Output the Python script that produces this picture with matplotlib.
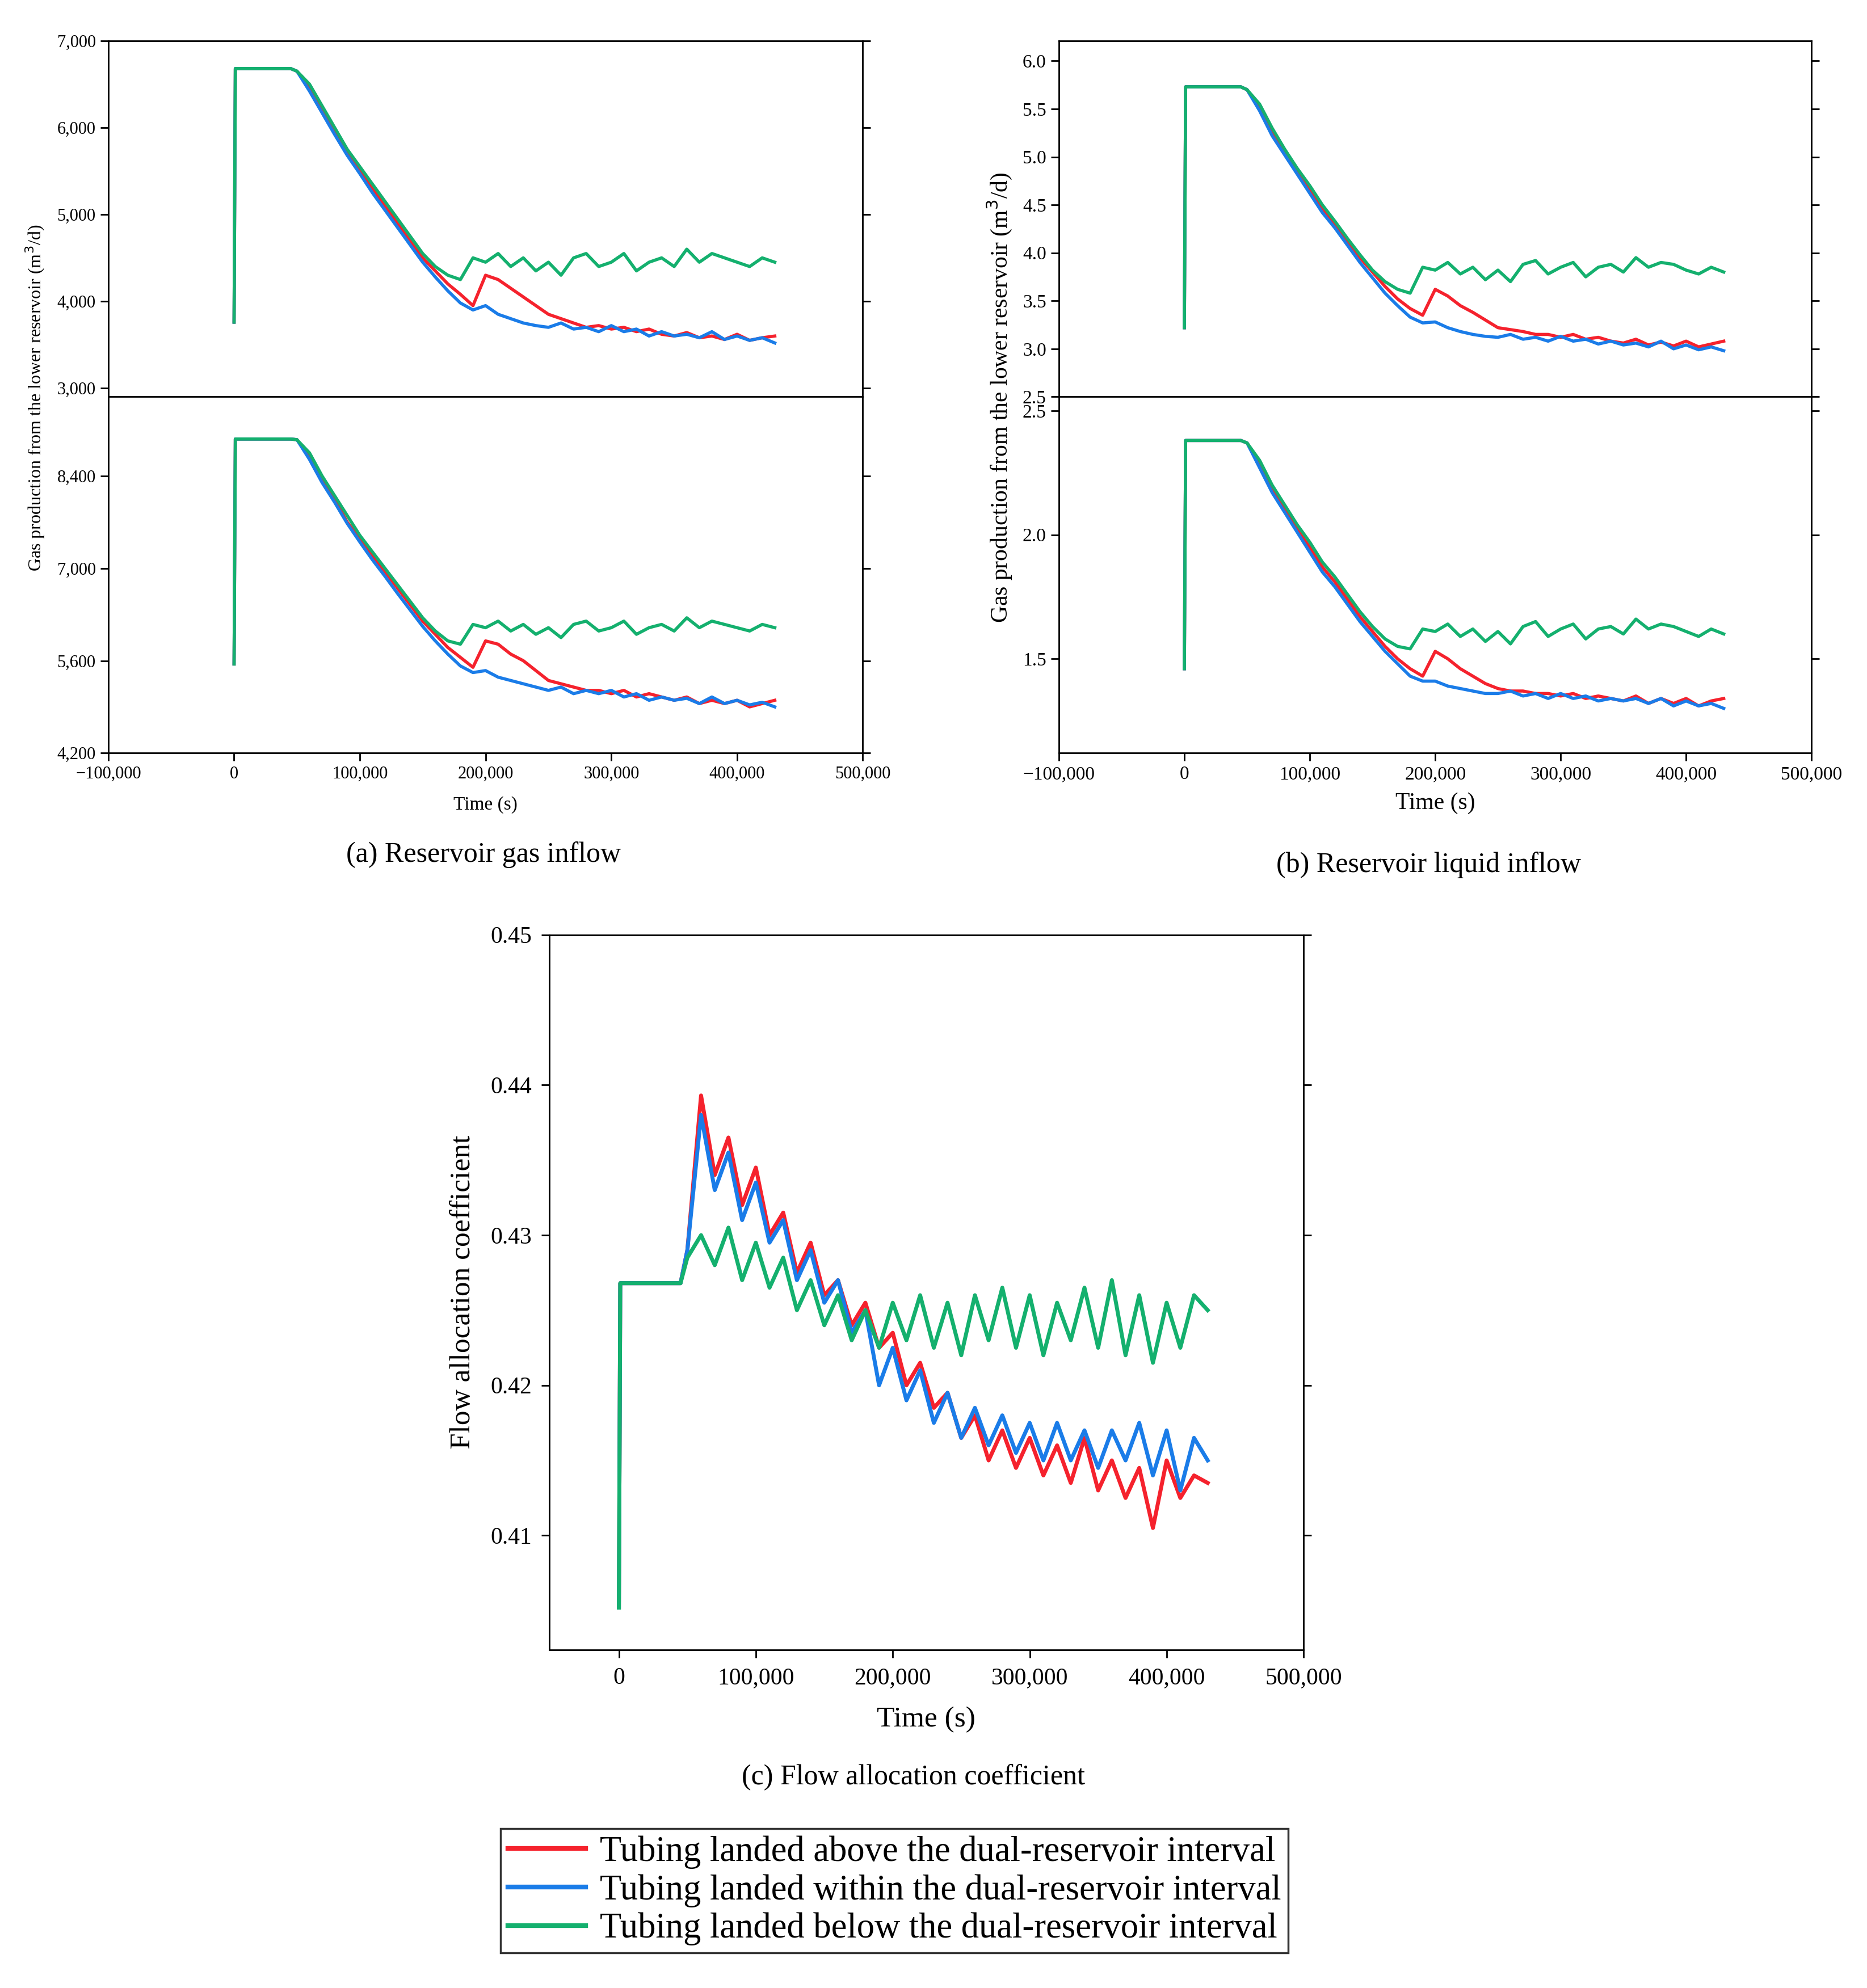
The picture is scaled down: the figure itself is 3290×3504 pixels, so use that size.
import numpy as np
import matplotlib
matplotlib.use("Agg")
import matplotlib.pyplot as plt
from matplotlib.ticker import FuncFormatter

plt.rcParams["font.family"] = "Liberation Serif"

# ---- data ----
t_start = [0, 1000, 45000]          # start times (s)
t0, dt = 50000, 10000               # sampled times after plateau

a_top_start = [3760, 6680, 6680]
a_top_red = [6650,6450,6200,5950,5700,5500,5300,5100,4900,4700,4500,4350,4200,4080,3950,4300,4250,4150,4050,3950,3850,3800,3750,3700,3720,3680,3700,3650,3680,3620,3600,3640,3580,3600,3560,3620,3550,3580,3600]
a_top_blue = [6650,6420,6170,5920,5680,5470,5250,5050,4850,4650,4450,4280,4120,3980,3900,3950,3850,3800,3750,3720,3700,3750,3680,3700,3650,3720,3650,3680,3600,3650,3600,3620,3580,3650,3560,3600,3550,3580,3520]
a_top_green = [6650,6500,6250,6000,5750,5550,5350,5150,4950,4750,4550,4400,4300,4250,4500,4450,4550,4400,4500,4350,4450,4300,4500,4550,4400,4450,4550,4350,4450,4500,4400,4600,4450,4550,4500,4450,4400,4500,4450]

a_bot_start = [5550, 8960, 8960]
a_bot_red = [8950,8700,8350,8050,7700,7450,7200,6950,6700,6450,6200,6000,5800,5650,5500,5900,5850,5700,5600,5450,5300,5250,5200,5150,5150,5100,5150,5050,5100,5050,5000,5050,4950,5000,4950,5000,4900,4950,5000]
a_bot_blue = [8950,8650,8300,8000,7680,7400,7130,6880,6620,6370,6120,5900,5700,5520,5420,5450,5350,5300,5250,5200,5150,5200,5100,5150,5100,5150,5050,5100,5000,5050,5000,5030,4950,5050,4950,5000,4930,4970,4900]
a_bot_green = [8950,8750,8400,8100,7800,7500,7250,7000,6750,6500,6250,6050,5900,5850,6150,6100,6200,6050,6150,6000,6100,5950,6150,6200,6050,6100,6200,6000,6100,6150,6050,6250,6100,6200,6150,6100,6050,6150,6100]

b_top_start = [3.22, 5.73, 5.73]
b_top_red = [5.70,5.50,5.25,5.05,4.85,4.65,4.45,4.30,4.12,3.95,3.80,3.65,3.52,3.42,3.35,3.62,3.55,3.45,3.38,3.30,3.22,3.20,3.18,3.15,3.15,3.12,3.15,3.10,3.12,3.08,3.06,3.10,3.04,3.07,3.03,3.08,3.02,3.05,3.08]
b_top_blue = [5.70,5.48,5.22,5.02,4.82,4.62,4.42,4.26,4.08,3.90,3.74,3.58,3.45,3.33,3.27,3.28,3.22,3.18,3.15,3.13,3.12,3.15,3.10,3.12,3.08,3.13,3.08,3.10,3.05,3.08,3.04,3.06,3.02,3.08,3.00,3.04,2.99,3.02,2.98]
b_top_green = [5.70,5.55,5.30,5.08,4.88,4.70,4.50,4.33,4.15,3.98,3.82,3.70,3.62,3.58,3.85,3.82,3.90,3.78,3.85,3.72,3.82,3.70,3.88,3.92,3.78,3.85,3.90,3.75,3.85,3.88,3.80,3.95,3.85,3.90,3.88,3.82,3.78,3.85,3.80]

b_bot_start = [1.46, 2.38, 2.38]
b_bot_red = [2.37,2.28,2.18,2.10,2.02,1.95,1.87,1.81,1.74,1.67,1.61,1.55,1.50,1.46,1.43,1.53,1.50,1.46,1.43,1.40,1.38,1.37,1.37,1.36,1.36,1.35,1.36,1.34,1.35,1.34,1.33,1.35,1.32,1.34,1.32,1.34,1.31,1.33,1.34]
b_bot_blue = [2.37,2.27,2.17,2.09,2.01,1.93,1.85,1.79,1.72,1.65,1.59,1.53,1.48,1.43,1.41,1.41,1.39,1.38,1.37,1.36,1.36,1.37,1.35,1.36,1.34,1.36,1.34,1.35,1.33,1.34,1.33,1.34,1.32,1.34,1.31,1.33,1.31,1.32,1.30]
b_bot_green = [2.37,2.30,2.20,2.12,2.04,1.97,1.89,1.83,1.76,1.69,1.63,1.58,1.55,1.54,1.62,1.61,1.64,1.59,1.62,1.57,1.61,1.56,1.63,1.65,1.59,1.62,1.64,1.58,1.62,1.63,1.60,1.66,1.62,1.64,1.63,1.61,1.59,1.62,1.60]

c_start = [0.4052, 0.4268, 0.4268]
c_red = [0.4290,0.4393,0.4340,0.4365,0.4320,0.4345,0.4300,0.4315,0.4275,0.4295,0.4260,0.4270,0.4240,0.4255,0.4225,0.4235,0.4200,0.4215,0.4185,0.4195,0.4165,0.4180,0.4150,0.4170,0.4145,0.4165,0.4140,0.4160,0.4135,0.4165,0.4130,0.4150,0.4125,0.4145,0.4105,0.4150,0.4125,0.4140,0.4135]
c_blue = [0.4290,0.4380,0.4330,0.4355,0.4310,0.4335,0.4295,0.4310,0.4270,0.4290,0.4255,0.4270,0.4235,0.4250,0.4200,0.4225,0.4190,0.4210,0.4175,0.4195,0.4165,0.4185,0.4160,0.4180,0.4155,0.4175,0.4150,0.4175,0.4150,0.4170,0.4145,0.4170,0.4150,0.4175,0.4140,0.4170,0.4130,0.4165,0.4150]
c_green = [0.4285,0.4300,0.4280,0.4305,0.4270,0.4295,0.4265,0.4285,0.4250,0.4270,0.4240,0.4260,0.4230,0.4250,0.4225,0.4255,0.4230,0.4260,0.4225,0.4255,0.4220,0.4260,0.4230,0.4265,0.4225,0.4260,0.4220,0.4255,0.4230,0.4265,0.4225,0.4270,0.4220,0.4260,0.4215,0.4255,0.4225,0.4260,0.4250]

labels = ["Tubing landed above the dual-reservoir interval",
          "Tubing landed within the dual-reservoir interval",
          "Tubing landed below the dual-reservoir interval"]
colors = ["#f5222d", "#1a7ce8", "#14b06e"]

def series(start, vals):
    t = np.concatenate([t_start, t0 + dt * np.arange(len(vals))])
    return t, np.concatenate([start, vals])

comma = FuncFormatter(lambda v, p: f"{v:,.0f}" if v >= 0 else "\u2212" + f"{-v:,.0f}")

fig = plt.figure(figsize=(32.91, 35.04), dpi=100)

def style(ax, fs, xlim, pad=6):
    ax.set_xlim(*xlim)
    ax.tick_params(direction="out", right=True, top=False, labelsize=fs, length=10, width=2, pad=pad)
    for s in ax.spines.values():
        s.set_linewidth(2)

def draw(ax, start, sets, lw):
    lines = []
    for vals, c in zip(sets, colors):
        t, y = series(start, vals)
        l, = ax.plot(t, y, color=c, lw=lw)
        lines.append(l)
    return lines

# (a)
axa1 = fig.add_axes([0.058, 0.8004, 0.404, 0.1791])
axa2 = fig.add_axes([0.058, 0.6212, 0.404, 0.1792])
draw(axa1, a_top_start, [a_top_red, a_top_blue, a_top_green], 4)
draw(axa2, a_bot_start, [a_bot_red, a_bot_blue, a_bot_green], 4)
for ax in (axa1, axa2):
    style(ax, 22, (-100000, 500000))
    ax.xaxis.set_major_formatter(comma); ax.yaxis.set_major_formatter(comma)
    ax.set_xticks(np.arange(-100000, 500001, 100000))
axa1.set_ylim(2900, 7000); axa1.set_yticks([3000, 4000, 5000, 6000, 7000])
axa1.tick_params(labelbottom=False, bottom=False)
axa2.set_ylim(4200, 9600); axa2.set_yticks([4200, 5600, 7000, 8400])
axa2.set_xlabel("Time (s)", fontsize=24, labelpad=18)
fig.text(0.019, 0.80, "Gas production from the lower reservoir (m$^3$/d)", rotation=90,
         ha="center", va="center", fontsize=23)
fig.text(0.259, 0.570, "(a) Reservoir gas inflow", ha="center", va="center", fontsize=36)

# (b)
axb1 = fig.add_axes([0.567, 0.8004, 0.403, 0.1791])
axb2 = fig.add_axes([0.567, 0.6212, 0.403, 0.1792])
draw(axb1, b_top_start, [b_top_red, b_top_blue, b_top_green], 4)
draw(axb2, b_bot_start, [b_bot_red, b_bot_blue, b_bot_green], 4)
for ax in (axb1, axb2):
    style(ax, 24, (-100000, 500000))
    ax.xaxis.set_major_formatter(comma)
    ax.set_xticks(np.arange(-100000, 500001, 100000))
axb1.set_ylim(2.5, 6.21); axb1.set_yticks(np.arange(2.5, 6.01, 0.5))
axb1.tick_params(labelbottom=False, bottom=False)
axb2.set_ylim(1.12, 2.556); axb2.set_yticks([1.5, 2.0, 2.5])
axb2.set_xlabel("Time (s)", fontsize=30, labelpad=12)
fig.text(0.535, 0.80, "Gas production from the lower reservoir (m$^3$/d)", rotation=90,
         ha="center", va="center", fontsize=30)
fig.text(0.765, 0.565, "(b) Reservoir liquid inflow", ha="center", va="center", fontsize=36)

# (c)
axc = fig.add_axes([0.294, 0.1702, 0.404, 0.3596])
lines = draw(axc, c_start, [c_red, c_blue, c_green], 5)
style(axc, 30, (-51000, 500000), pad=12)
axc.xaxis.set_major_formatter(comma)
axc.set_xticks(np.arange(0, 500001, 100000))
axc.set_ylim(0.4024, 0.45)
axc.set_yticks([0.41, 0.42, 0.43, 0.44, 0.45])
axc.set_yticklabels(["0.41", "0.42", "0.43", "0.44", "0.45"])
axc.set_xlabel("Time (s)", fontsize=37, labelpad=22)
axc.set_ylabel("Flow allocation coefficient", fontsize=37, labelpad=18)
fig.text(0.489, 0.106, "(c) Flow allocation coefficient", ha="center", va="center", fontsize=36)

leg = fig.legend(lines, labels, loc="center", bbox_to_anchor=(0.479, 0.049), fontsize=45,
                 frameon=True, fancybox=False, edgecolor="black", handlelength=2.2,
                 borderpad=0.2, labelspacing=0.15, handletextpad=0.4)
leg.get_frame().set_linewidth(2.5)
for l in leg.get_lines():
    l.set_linewidth(6)

fig.savefig("out.png", dpi=100)
